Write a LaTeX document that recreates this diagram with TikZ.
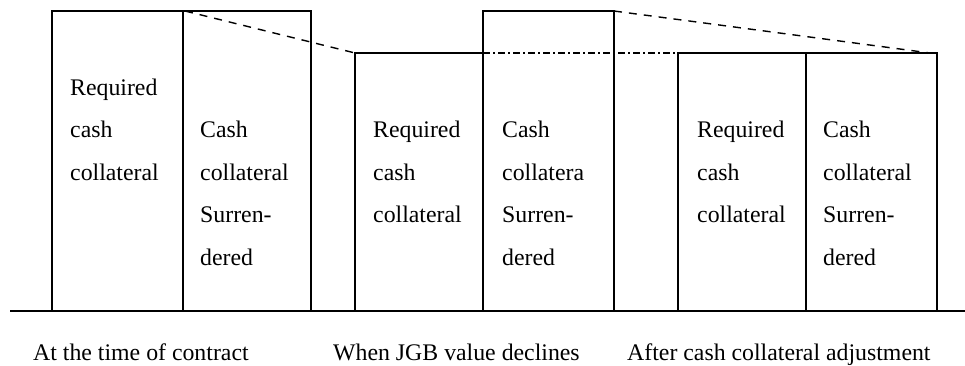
\documentclass[tikz,border=0pt]{standalone}
\usepackage{fontspec}
\setmainfont{Liberation Serif}
\begin{document}
\begin{tikzpicture}[x=1pt,y=-1pt,
  bar/.style={draw=black,line width=1.5pt},
  lbl/.style={anchor=base west,inner sep=0pt,font=\fontsize{23.8}{28}\selectfont},
  trend/.style={line width=1.4pt,dash pattern=on 8pt off 7pt},
  level/.style={line width=1.3pt,dash pattern=on 7pt off 3pt on 2pt off 3pt}]
\useasboundingbox (0,0) rectangle (965,365);
% base line
\coordinate (b0) at (10,311);
\coordinate (b1) at (965,311);
\draw[bar] (b0) -- (b1);
% boxes
\draw[bar] (52,311) rectangle (183,11);
\draw[bar] (183,311) rectangle (311,11);
\draw[bar] (355,311) rectangle (483,53);
\draw[bar] (483,311) rectangle (614,11);
\draw[bar] (678,311) rectangle (806,53);
\draw[bar] (806,311) rectangle (937,53);
% trend lines
\coordinate (t1a) at (185,11);
\coordinate (t1b) at (355,53);
\coordinate (t2a) at (614,11);
\coordinate (t2b) at (930,53);
\coordinate (l1a) at (483,53);
\coordinate (l1b) at (678,53);
\draw[trend] (t1a) -- (t1b);
\draw[trend] (t2a) -- (t2b);
\draw[level] (l1a) -- (l1b);
% box texts
\node[lbl] (a1) at (70,95) {Required};
\node[lbl] (a2) at (70,137) {cash};
\node[lbl] (a3) at (70,180) {collateral};
\node[lbl] (c1) at (200,137) {Cash};
\node[lbl] (c2) at (200,180) {collateral};
\node[lbl] (c3) at (200,222) {Surren-};
\node[lbl] (c4) at (200,265) {dered};
\node[lbl] (d1) at (373,137) {Required};
\node[lbl] (d2) at (373,180) {cash};
\node[lbl] (d3) at (373,222) {collateral};
\node[lbl] (e1) at (502,137) {Cash};
\node[lbl] (e2) at (502,180) {collatera};
\node[lbl] (e3) at (502,222) {Surren-};
\node[lbl] (e4) at (502,265) {dered};
\node[lbl] (f1) at (697,137) {Required};
\node[lbl] (f2) at (697,180) {cash};
\node[lbl] (f3) at (697,222) {collateral};
\node[lbl] (g1) at (823,137) {Cash};
\node[lbl] (g2) at (823,180) {collateral};
\node[lbl] (g3) at (823,222) {Surren-};
\node[lbl] (g4) at (823,265) {dered};
% bottom captions
\node[lbl] (cap1) at (33,360) {At the time of contract};
\node[lbl] (cap2) at (333,360) {When JGB value declines};
\node[lbl] (cap3) at (627,360) {After cash collateral adjustment};
\end{tikzpicture}
\end{document}
